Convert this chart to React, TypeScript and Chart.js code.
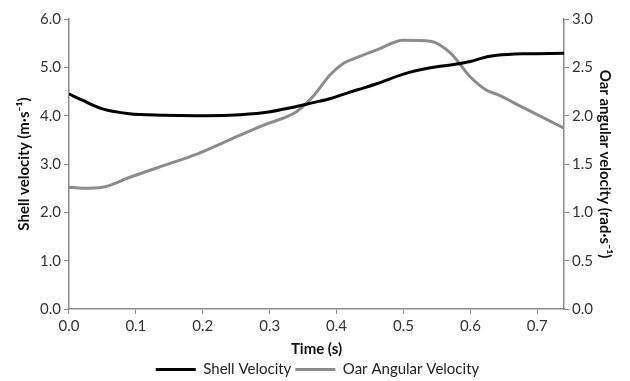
import React, { useEffect, useRef } from "react";
import { Chart, registerables } from "chart.js";

Chart.register(...registerables);

const times = [0, 0.02, 0.05, 0.09, 0.14, 0.19, 0.24, 0.29, 0.34, 0.365, 0.39, 0.41, 0.43, 0.46, 0.5, 0.54, 0.57, 0.6, 0.625, 0.64, 0.68, 0.74];
const shellVelocity = [4.45, 4.32, 4.14, 4.04, 4.01, 4.0, 4.01, 4.06, 4.19, 4.27, 4.35, 4.44, 4.53, 4.66, 4.86, 4.99, 5.05, 5.12, 5.22, 5.25, 5.28, 5.29];
const oarAngularVelocity = [1.26, 1.25, 1.26, 1.36, 1.48, 1.6, 1.75, 1.9, 2.04, 2.2, 2.42, 2.54, 2.6, 2.68, 2.78, 2.77, 2.65, 2.4, 2.26, 2.22, 2.08, 1.87];
const xTicks = [0, 0.1, 0.2, 0.3, 0.4, 0.5, 0.6, 0.7];
const seriesNames = ["Shell Velocity", "Oar Angular Velocity"];
const xTitle = "Time (s)";
const yLeftTitle = "Shell velocity (m·s⁻¹)";
const yRightTitle = "Oar angular velocity (rad·s⁻¹)";

const FONT = "Lato, 'Open Sans', sans-serif";
const AXIS = "#8a8a8a";

export default function App() {
  const ref = useRef<HTMLCanvasElement | null>(null);
  useEffect(() => {
    document.body.style.margin = "0";
    const ctx = ref.current!;
    const toPts = (ys: number[]) => times.map((t, i) => ({ x: t, y: ys[i] }));
    const tickFont = { family: FONT, size: 15 };
    const titleFont = { family: FONT, size: 15, weight: "bold" as const };
    const chart = new Chart(ctx, {
      type: "line",
      data: {
        datasets: [
          {
            label: seriesNames[0],
            data: toPts(shellVelocity),
            borderColor: "#000000",
            backgroundColor: "#000000",
            borderWidth: 3,
            pointRadius: 0,
            cubicInterpolationMode: "monotone",
            yAxisID: "y",
          },
          {
            label: seriesNames[1],
            data: toPts(oarAngularVelocity),
            borderColor: "#8c8c8c",
            backgroundColor: "#8c8c8c",
            borderWidth: 3,
            pointRadius: 0,
            cubicInterpolationMode: "monotone",
            yAxisID: "y1",
          },
        ],
      },
      options: {
        animation: false,
        responsive: false,
        maintainAspectRatio: false,
        layout: { padding: { left: 15, right: 10, top: 19, bottom: -6 } },
        plugins: {
          tooltip: { enabled: false },
          legend: {
            position: "bottom",
            labels: {
              usePointStyle: true,
              pointStyle: "line",
              pointStyleWidth: 40,
              boxHeight: 3,
              font: { family: FONT, size: 15 },
              color: "#222",
              padding: 4,
            },
          },
        },
        scales: {
          x: {
            type: "linear",
            min: 0,
            max: 0.74,
            afterBuildTicks: (s: any) => {
              s.ticks = xTicks.map((v) => ({ value: v }));
            },
            ticks: { font: tickFont, color: "#333", callback: (v: any) => Number(v).toFixed(1), padding: 3, autoSkip: false, maxRotation: 0 },
            grid: { drawOnChartArea: false, drawTicks: true, tickLength: 5, color: AXIS },
            border: { color: AXIS, width: 1.5 },
            title: { display: true, text: xTitle, font: titleFont, color: "#111", padding: { top: 2, bottom: 0 } },
          },
          y: {
            position: "left",
            min: 0,
            max: 6,
            ticks: { stepSize: 1, font: tickFont, color: "#333", callback: (v: any) => Number(v).toFixed(1), padding: 3 },
            grid: { drawOnChartArea: false, drawTicks: true, tickLength: 5, color: AXIS },
            border: { color: AXIS, width: 1.5 },
            title: { display: true, text: yLeftTitle, font: titleFont, color: "#111", padding: { top: 0, bottom: 4 } },
          },
          y1: {
            position: "right",
            min: 0,
            max: 3,
            ticks: { stepSize: 0.5, font: tickFont, color: "#333", callback: (v: any) => Number(v).toFixed(1), padding: 3 },
            grid: { drawOnChartArea: false, drawTicks: true, tickLength: 5, color: AXIS },
            border: { color: AXIS, width: 1.5 },
            title: { display: true, text: yRightTitle, font: titleFont, color: "#111", padding: { top: 6, bottom: 0 } },
          },
        },
      },
    } as any);
    return () => chart.destroy();
  }, []);
  return <canvas ref={ref} width={630} height={381} style={{ display: "block" }} />;
}
